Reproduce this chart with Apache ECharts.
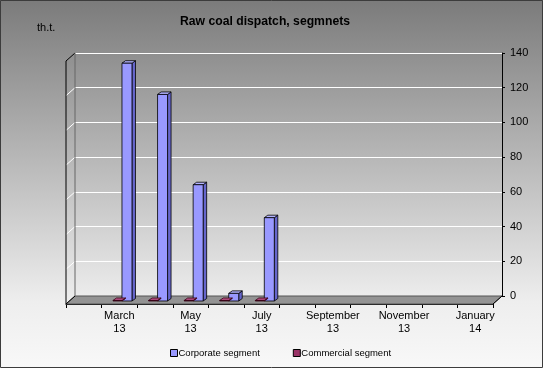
<!DOCTYPE html>
<html><head><meta charset="utf-8">
<script src="https://cdn.jsdelivr.net/npm/echarts@6/dist/echarts.min.js"></script>
<style>html,body{margin:0;padding:0;}#c{width:543px;height:368px;}</style>
</head><body><div id="c"></div>
<script>
const months = ['February\n13','March\n13','April\n13','May\n13','June\n13','July\n13','August\n13','September\n13','October\n13','November\n13','December\n13','January\n14'];
const corporate = [null, 137, 119, 67, 4.4, 48, null, null, null, null, null, null];
const commercial = [null, 0.3, 0.3, 0.3, 0.3, 0.3, null, null, null, null, null, null];
const yTicks = [0, 20, 40, 60, 80, 100, 120, 140];
const seriesNames = ['Corporate segment', 'Commercial segment'];

const chart = echarts.init(document.getElementById('c'), null, {renderer: 'canvas'});
const FONT = '"Liberation Sans", Arial, sans-serif';

function toData(arr) {
  const out = [];
  arr.forEach((v, i) => { if (v !== null) out.push([i, v]); });
  return out;
}

function makeRender(off1, off2, cFront, cTop, cSide, stroke) {
  return function (params, api) {
    const idx = api.value(0), v = api.value(1);
    const top = api.coord([idx, v]);
    const base = api.coord([idx, 0]);
    const cx = top[0];
    const x1 = cx + off1, x2 = cx + off2;
    const yt = top[1] + 5, yb = base[1] + 5;
    const dx = 3.5, dy = -2.5;
    return {
      type: 'group',
      children: [
        {type: 'polygon', shape: {points: [[x2, yt], [x2 + dx, yt + dy], [x2 + dx, yb + dy], [x2, yb]]},
          style: {fill: cSide, stroke: stroke, lineWidth: 0.8}},
        {type: 'polygon', shape: {points: [[x1, yt], [x1 + dx, yt + dy], [x2 + dx, yt + dy], [x2, yt]]},
          style: {fill: cTop, stroke: stroke, lineWidth: 0.8}},
        {type: 'rect', shape: {x: x1, y: yt, width: x2 - x1, height: yb - yt},
          style: {fill: cFront, stroke: stroke, lineWidth: 0.8}}
      ]
    };
  };
}

const G = {left: 75, right: 41, top: 53, bottom: 72};
const DX = -9, DY = 8;

chart.setOption({
  animation: false,
  backgroundColor: {
    type: 'linear', x: 0, y: 0, x2: 0, y2: 1,
    colorStops: [{offset: 0, color: '#7b7b7b'}, {offset: 0.82, color: '#eeeeee'}, {offset: 1, color: '#f8f8f8'}]
  },
  title: {
    text: 'Raw coal dispatch, segmnets', left: 175, top: 11,
    textStyle: {fontFamily: FONT, fontSize: 12.2, fontWeight: 'bold', color: '#000'}
  },
  legend: {
    left: 165, top: 343, itemWidth: 7, itemHeight: 7, itemGap: 33,
    textStyle: {fontFamily: FONT, fontSize: 9.5, color: '#000', padding: [0, 0, 0, -4]},
    data: [
      {name: seriesNames[0], icon: 'rect', itemStyle: {color: '#9999ff', borderColor: '#000', borderWidth: 1}},
      {name: seriesNames[1], icon: 'rect', itemStyle: {color: '#993366', borderColor: '#000', borderWidth: 1}}
    ]
  },
  grid: [
    {left: G.left, right: G.right, top: G.top, bottom: G.bottom},
    {left: G.left + DX, right: G.right - DX, top: G.top - DY, bottom: G.bottom - DY}
  ],
  xAxis: [
    {type: 'category', gridIndex: 0, data: months, boundaryGap: true, show: false},
    {type: 'category', gridIndex: 1, data: months, boundaryGap: true, position: 'bottom',
      axisLine: {show: true, lineStyle: {color: '#000', width: 1}},
      axisTick: {show: true, interval: 0, length: 4, lineStyle: {color: '#000'}},
      axisLabel: {interval: function (i) { return i % 2 === 1; }, margin: 5, fontFamily: FONT, fontSize: 11,
        lineHeight: 13, color: '#000'},
      splitLine: {show: false}}
  ],
  yAxis: [
    {type: 'value', gridIndex: 0, position: 'right', min: 0, max: 140, interval: 20,
      axisLine: {show: true, lineStyle: {color: '#000', width: 1}},
      axisTick: {show: true, length: 3, lineStyle: {color: '#000'}},
      axisLabel: {margin: 8, fontFamily: FONT, fontSize: 11, color: '#000',
        formatter: function (v) { return yTicks.indexOf(v) >= 0 ? String(v) : ''; }},
      splitLine: {show: true, lineStyle: {color: '#ffffff', width: 1}}},
    {type: 'value', gridIndex: 1, min: 0, max: 140, show: false}
  ],
  series: [
    {name: seriesNames[0], type: 'custom', xAxisIndex: 0, yAxisIndex: 0, z: 5,
      itemStyle: {color: '#9999ff'},
      renderItem: makeRender(-6.4, 3.6, '#9999ff', '#b3b3ff', '#6666cc', '#000'),
      data: toData(corporate)},
    {name: seriesNames[1], type: 'custom', xAxisIndex: 0, yAxisIndex: 0, z: 5,
      itemStyle: {color: '#993366'},
      renderItem: makeRender(-15.4, -6.4, '#993366', '#b34d80', '#662244', '#330011'),
      data: toData(commercial)}
  ]
});

// Frame: floor, left wall, edges, computed from the axes
function drawFrame() {
  const p = (i, v) => chart.convertToPixel({xAxisIndex: 0, yAxisIndex: 0}, [i, v]);
  const band = p(1, 0)[0] - p(0, 0)[0];
  const bl = p(0, 0)[0] - band / 2, br = p(11, 0)[0] + band / 2;
  const y0 = p(0, 0)[1], yTop = p(0, 140)[1];
  const els = [];
  els.push({type: 'polygon', z: 1, shape: {points: [[bl, y0], [br, y0], [br + DX, y0 + DY], [bl + DX, y0 + DY]]},
    style: {fill: '#939393', stroke: '#555', lineWidth: 1}});
  yTicks.forEach(t => {
    if (t === 0) return;
    const y = p(0, t)[1];
    els.push({type: 'line', z: 1, shape: {x1: bl + DX, y1: y + DY, x2: bl, y2: y},
      style: {stroke: t === 140 ? '#000' : '#ffffff', lineWidth: 1}});
  });
  els.push({type: 'line', z: 2, shape: {x1: bl, y1: yTop, x2: bl, y2: y0}, style: {stroke: '#666', lineWidth: 1}});
  els.push({type: 'line', z: 2, shape: {x1: bl + DX, y1: yTop + DY, x2: bl + DX, y2: y0 + DY}, style: {stroke: '#000', lineWidth: 1}});
  els.push({type: 'line', z: 2, shape: {x1: bl + DX, y1: y0 + DY, x2: bl, y2: y0}, style: {stroke: '#000', lineWidth: 1}});
  els.push({type: 'line', z: 2, shape: {x1: br, y1: y0, x2: br + DX, y2: y0 + DY}, style: {stroke: '#000', lineWidth: 1}});
  els.push({type: 'text', z: 3, left: 37, top: 22, style: {text: 'th.t.', fontFamily: FONT, fontSize: 11, fill: '#000'}});
  els.push({type: 'rect', z: 10, shape: {x: 0.5, y: 0.5, width: 542, height: 367},
    style: {fill: 'none', stroke: '#3c3c3c', lineWidth: 1}});
  chart.setOption({graphic: els});
}
drawFrame();
</script>
</body></html>
